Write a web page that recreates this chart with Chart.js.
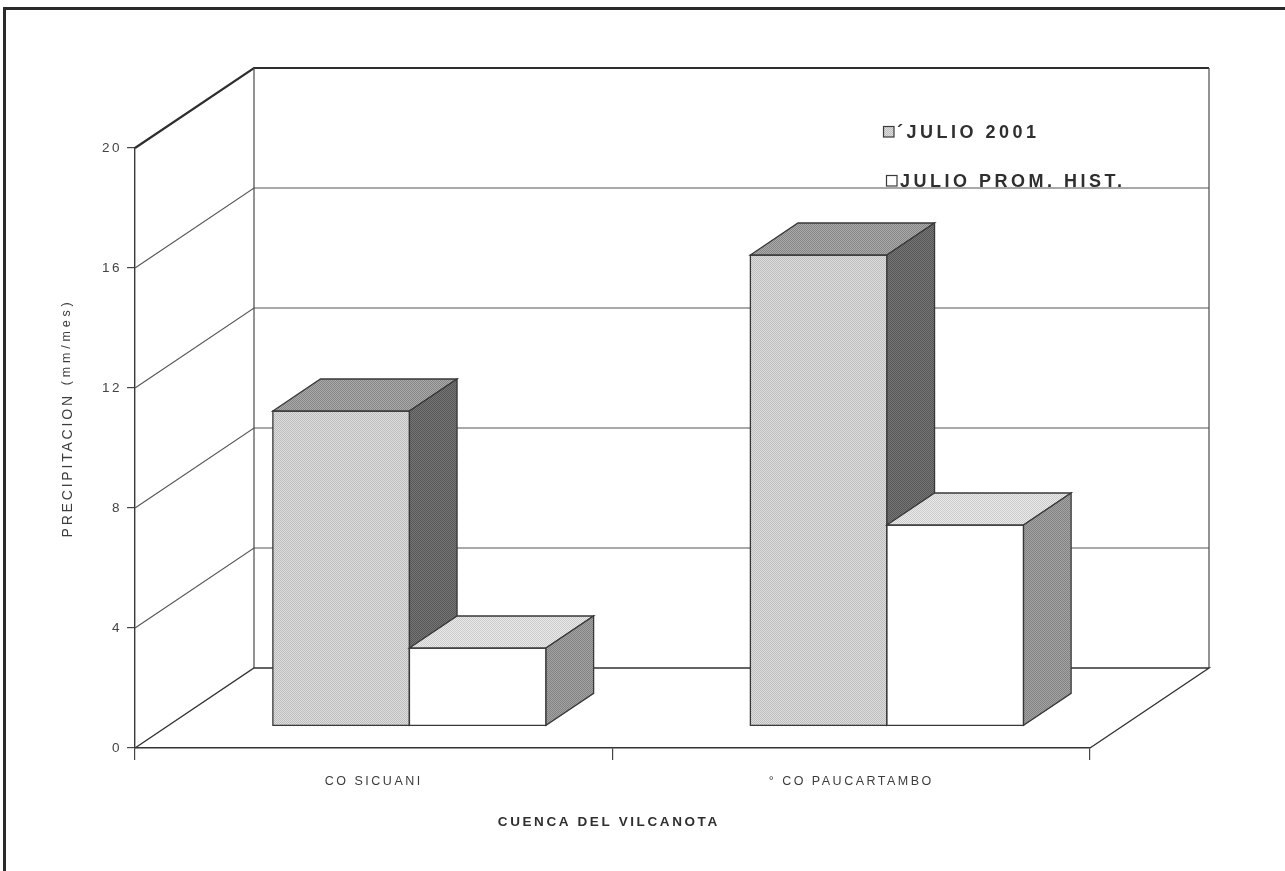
<!DOCTYPE html>
<html lang="es">
<head>
<meta charset="utf-8">
<title>Precipitación julio 2001 – Cuenca del Vilcanota</title>
<script src="https://cdn.jsdelivr.net/npm/chart.js@4.4.1/dist/chart.umd.min.js"></script>
<style>
  html, body { margin: 0; padding: 0; background: #ffffff; }
  #wrap { width: 1285px; height: 871px; position: relative; overflow: hidden; }
  canvas { display: block; }
</style>
</head>
<body>
<div id="wrap"><canvas id="chart" width="1285" height="871"></canvas></div>
<script>
// Estaciones de la cuenca
const categories = ['CO SICUANI', '\u00B0 CO PAUCARTAMBO'];
// Nombres de las series
const seriesNames = ['\u00B4JULIO 2001', 'JULIO PROM. HIST.'];
// Precipitación (mm/mes)
const julio2001 = [10.5, 15.7];
const julioPromHist = [2.6, 6.7];
// Marcas del eje vertical
const yTickValues = [0, 4, 8, 12, 16, 20];

const yTitleMain = 'PRECIPITACION';
const yTitleUnit = '(mm/mes)';
const xTitle = 'CUENCA DEL VILCANOTA';

// Perspectiva: desplazamiento del fondo del piso respecto al plano frontal
const DEPTH_X = 119;
const DEPTH_Y = 80;
const BAR_OFFSET_X = 0.30;  // fracción de profundidad antes de la barra (horizontal)
const BAR_OFFSET_Y = 0.275; // fracción de profundidad antes de la barra (vertical)
const BAR_DEPTH = 0.40;     // fracción de profundidad ocupada por la barra

const FONT = '"Liberation Sans", Arial, sans-serif';

const canvas = document.getElementById('chart');
const ctx0 = canvas.getContext('2d');

// Trama de semitono (dos tonos en damero)
function halftone(c1, c2) {
  const p = document.createElement('canvas');
  p.width = 2; p.height = 2;
  const g = p.getContext('2d');
  g.fillStyle = c1; g.fillRect(0, 0, 2, 2);
  g.fillStyle = c2; g.fillRect(0, 0, 1, 1); g.fillRect(1, 1, 1, 1);
  return ctx0.createPattern(p, 'repeat');
}

const faces = [
  { front: halftone('#dedede', '#bdbdbd'), top: halftone('#ababab', '#858585'), side: halftone('#777777', '#565656') },
  { front: '#ffffff', top: halftone('#ebebeb', '#cacaca'), side: halftone('#a4a4a4', '#828282') }
];

const LINE = '#383838';

function drawBox(ctx, x0, x1, yTop, yBot, dx, dy, f) {
  ctx.lineWidth = 1.3;
  ctx.strokeStyle = LINE;
  ctx.lineJoin = 'miter';
  // cara frontal
  ctx.fillStyle = f.front;
  ctx.beginPath();
  ctx.rect(x0, yTop, x1 - x0, yBot - yTop);
  ctx.fill(); ctx.stroke();
  // cara superior
  ctx.fillStyle = f.top;
  ctx.beginPath();
  ctx.moveTo(x0, yTop);
  ctx.lineTo(x0 + dx, yTop - dy);
  ctx.lineTo(x1 + dx, yTop - dy);
  ctx.lineTo(x1, yTop);
  ctx.closePath();
  ctx.fill(); ctx.stroke();
  // cara lateral
  ctx.fillStyle = f.side;
  ctx.beginPath();
  ctx.moveTo(x1, yTop);
  ctx.lineTo(x1 + dx, yTop - dy);
  ctx.lineTo(x1 + dx, yBot - dy);
  ctx.lineTo(x1, yBot);
  ctx.closePath();
  ctx.fill(); ctx.stroke();
}

function line(ctx, pts, w, color) {
  ctx.beginPath();
  ctx.moveTo(pts[0][0], pts[0][1]);
  for (let i = 1; i < pts.length; i++) ctx.lineTo(pts[i][0], pts[i][1]);
  ctx.lineWidth = w;
  ctx.strokeStyle = color;
  ctx.stroke();
}

function spacedText(ctx, text, x, y, spacing, align) {
  ctx.letterSpacing = spacing + 'px';
  const w = ctx.measureText(text).width - spacing;
  let sx = x;
  if (align === 'center') sx = x - w / 2;
  else if (align === 'right') sx = x - w;
  ctx.textAlign = 'left';
  ctx.fillText(text, sx, y);
  ctx.letterSpacing = '0px';
  return w;
}

const box3d = {
  id: 'box3d',
  beforeLayout(chart) {
    // espaciado de letras de las etiquetas de los ejes
    chart.ctx.letterSpacing = '2.5px';
  },
  beforeDatasetsDraw(chart) {
    const ctx = chart.ctx;
    const { left, right } = chart.chartArea;
    const y = chart.scales.y;
    ctx.save();
    ctx.letterSpacing = '0px';
    const y0 = y.getPixelForValue(0);
    const yMax = y.getPixelForValue(y.max);
    // líneas de división: pared lateral y pared del fondo
    yTickValues.forEach(v => {
      if (v === 0) return;
      const py = y.getPixelForValue(v);
      const isTop = v === y.max;
      line(ctx, [[left, py], [left + DEPTH_X, py - DEPTH_Y], [right + DEPTH_X, py - DEPTH_Y]],
        isTop ? 2.2 : 1.1, isTop ? '#2e2e2e' : '#555555');
    });
    // aristas verticales de la pared del fondo
    line(ctx, [[left + DEPTH_X, yMax - DEPTH_Y], [left + DEPTH_X, y0 - DEPTH_Y]], 1.2, '#4a4a4a');
    line(ctx, [[right + DEPTH_X, yMax - DEPTH_Y], [right + DEPTH_X, y0 - DEPTH_Y]], 1.2, '#4a4a4a');
    // piso
    line(ctx, [[left, y0], [left + DEPTH_X, y0 - DEPTH_Y], [right + DEPTH_X, y0 - DEPTH_Y], [right, y0]], 1.4, '#333333');
    ctx.restore();
  },
  afterDatasetsDraw(chart) {
    const ctx = chart.ctx;
    ctx.save();
    const ox = DEPTH_X * BAR_OFFSET_X, oy = DEPTH_Y * BAR_OFFSET_Y;
    const dx = DEPTH_X * BAR_DEPTH, dy = DEPTH_Y * BAR_DEPTH;
    const n = chart.data.labels.length;
    for (let j = 0; j < n; j++) {
      chart.data.datasets.forEach((ds, i) => {
        const el = chart.getDatasetMeta(i).data[j];
        const x0 = el.x - el.width / 2 + ox;
        const x1 = el.x + el.width / 2 + ox;
        drawBox(ctx, x0, x1, el.y - oy, el.base - oy, dx, dy, faces[i]);
      });
    }
    ctx.restore();
  },
  afterDraw(chart) {
    const ctx = chart.ctx;
    const { left, right } = chart.chartArea;
    ctx.save();
    ctx.textBaseline = 'middle';

    // leyenda
    const lx = 883, ly = [132, 181];
    chart.data.datasets.forEach((ds, i) => {
      const sx = lx + i * 3, sy = ly[i] - 6;
      ctx.fillStyle = i === 0 ? faces[0].front : '#ffffff';
      ctx.fillRect(sx, sy, 11, 11);
      ctx.lineWidth = 1.2;
      ctx.strokeStyle = '#3a3a3a';
      ctx.strokeRect(sx + 0.5, sy + 0.5, 10.5, 10.5);
      ctx.fillStyle = '#2f2f2f';
      ctx.font = 'bold 18px ' + FONT;
      spacedText(ctx, ds.label, sx + 14, ly[i] + 1, 3.5, 'left');
    });

    // título del eje vertical
    ctx.save();
    ctx.translate(68, 418);
    ctx.rotate(-Math.PI / 2);
    ctx.fillStyle = '#3c3c3c';
    ctx.textAlign = 'left';
    const f1 = '14px ' + FONT, f2 = '12.5px ' + FONT;
    ctx.font = f1; ctx.letterSpacing = '2.8px';
    const w1 = ctx.measureText(yTitleMain).width;
    ctx.font = f2; ctx.letterSpacing = '3.8px';
    const w2 = ctx.measureText(yTitleUnit).width;
    const gap = 8;
    const total = w1 + gap + w2;
    ctx.font = f1; ctx.letterSpacing = '2.8px';
    ctx.fillText(yTitleMain, -total / 2, 0);
    ctx.font = f2; ctx.letterSpacing = '3.8px';
    ctx.fillText(yTitleUnit, -total / 2 + w1 + gap, -1);
    ctx.restore();

    // título del eje horizontal
    ctx.fillStyle = '#2f2f2f';
    ctx.font = 'bold 13.5px ' + FONT;
    spacedText(ctx, xTitle, (left + right) / 2 - 5, 822, 2.6, 'center');

    // marco exterior
    ctx.lineWidth = 3;
    ctx.strokeStyle = '#2a2a2a';
    ctx.beginPath();
    ctx.moveTo(4.5, 875);
    ctx.lineTo(4.5, 8.5);
    ctx.lineTo(1290, 8.5);
    ctx.stroke();
    ctx.restore();
  }
};

new Chart(canvas, {
  type: 'bar',
  data: {
    labels: categories,
    datasets: [
      { label: seriesNames[0], data: julio2001, backgroundColor: 'rgba(0,0,0,0)', borderWidth: 0 },
      { label: seriesNames[1], data: julioPromHist, backgroundColor: 'rgba(0,0,0,0)', borderWidth: 0 }
    ]
  },
  options: {
    responsive: false,
    animation: false,
    events: [],
    layout: { padding: { left: 0, top: 148, right: 195, bottom: 0 } },
    plugins: { legend: { display: false }, tooltip: { enabled: false } },
    datasets: { bar: { categoryPercentage: 0.572, barPercentage: 1.0 } },
    scales: {
      x: {
        offset: true,
        afterFit: s => { s.height = 123; },
        grid: { offset: true, drawOnChartArea: false, drawTicks: true, tickLength: 12, color: '#444', lineWidth: 1.2 },
        border: { display: true, color: '#333', width: 1.6 },
        ticks: {
          color: '#3c3c3c', padding: 14, maxRotation: 0,
          font: { family: FONT, size: 12.5 }
        }
      },
      y: {
        min: 0, max: 20,
        afterFit: s => { s.width = 135; },
        afterBuildTicks: s => { s.ticks = yTickValues.map(v => ({ value: v })); },
        grid: { drawOnChartArea: false, drawTicks: true, tickLength: 8, color: '#444', lineWidth: 1.2 },
        border: { display: true, color: '#3a3a3a', width: 1.4 },
        ticks: {
          color: '#444', padding: 5,
          font: { family: FONT, size: 13.5 }
        }
      }
    }
  },
  plugins: [box3d]
});
</script>
</body>
</html>
